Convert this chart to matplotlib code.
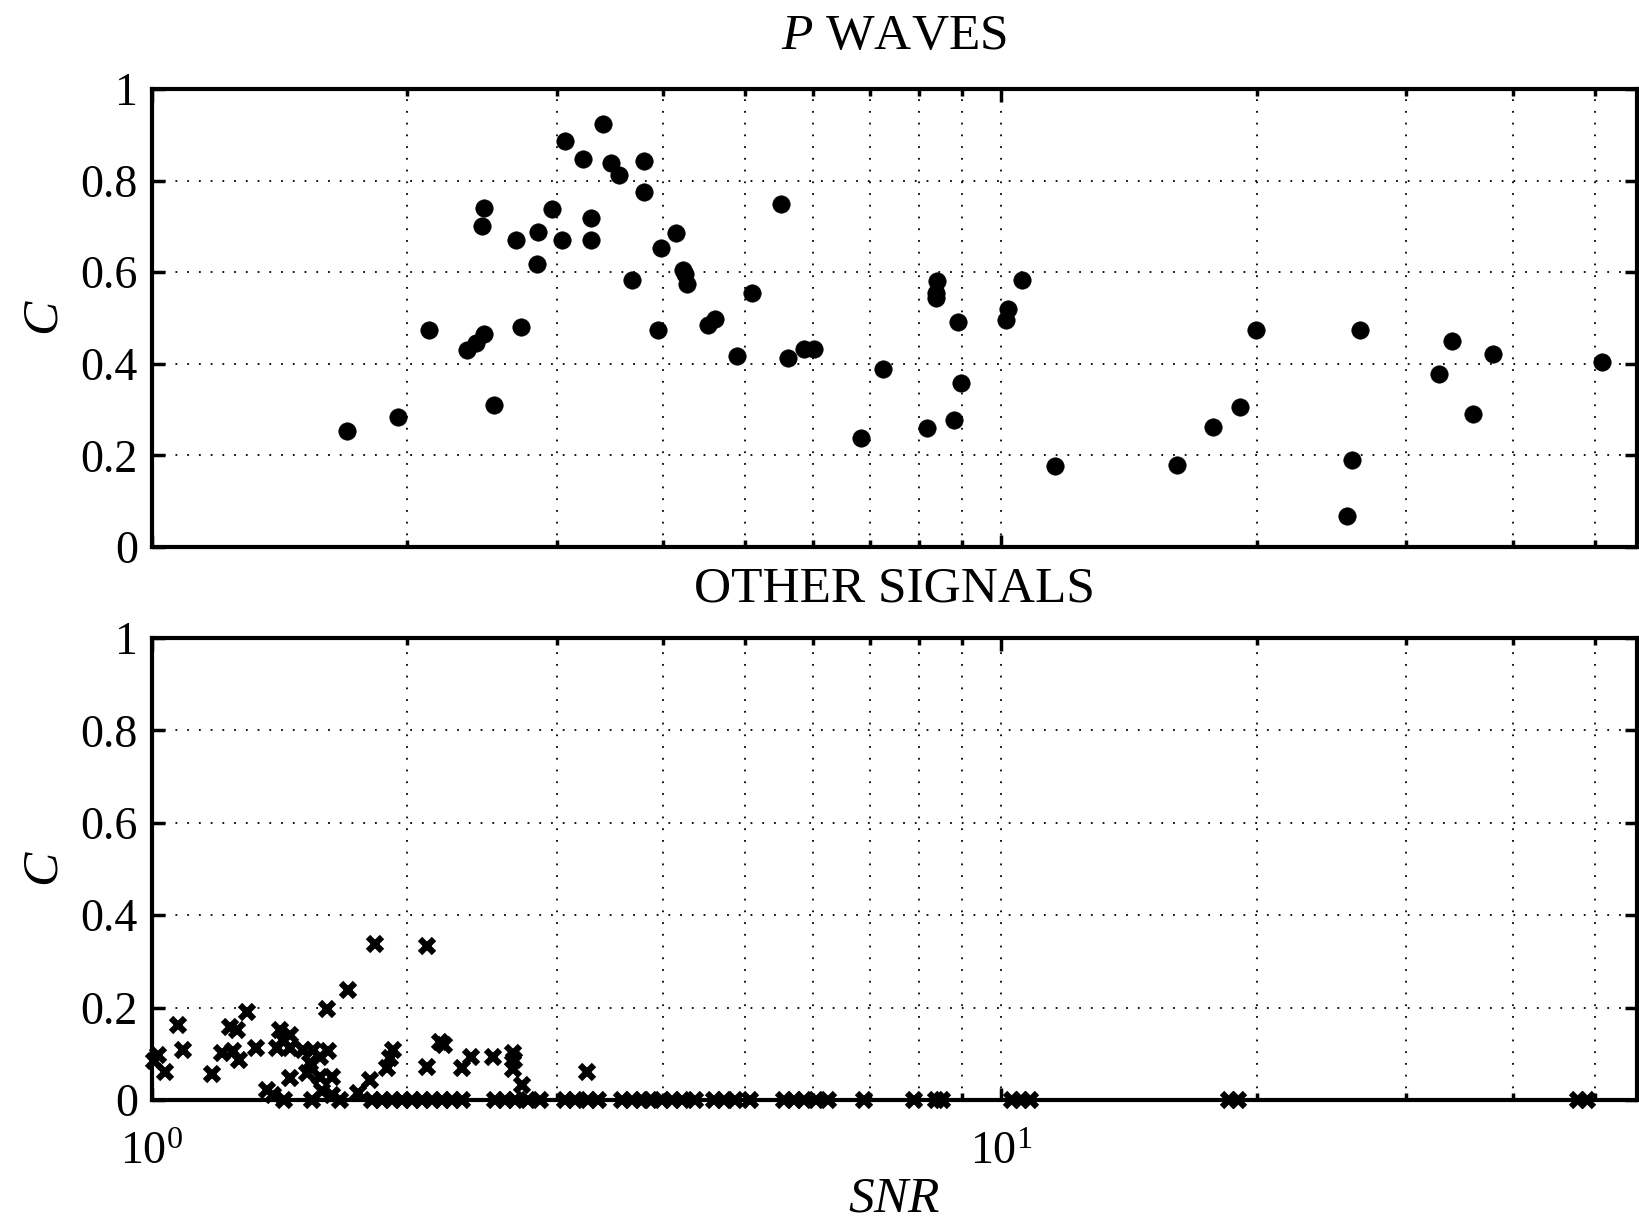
import numpy as np
import matplotlib
matplotlib.use("Agg")
import matplotlib.pyplot as plt
from matplotlib.ticker import LogLocator, NullFormatter, FixedLocator

plt.rcParams['font.family'] = ['Liberation Serif', 'DejaVu Serif']
plt.rcParams['mathtext.fontset'] = 'custom'
plt.rcParams['mathtext.rm'] = 'Liberation Serif'
plt.rcParams['mathtext.it'] = 'Liberation Serif:italic'

# P-wave detections: signal-to-noise ratio and coherence
snr_p = [1.696, 1.950, 2.123, 2.35, 2.407, 2.459, 2.459, 2.449, 2.527, 2.683,
         2.72, 2.852, 2.844, 2.956, 3.043, 3.067, 3.219, 3.289, 3.289, 3.395,
         3.471, 3.553, 3.675, 3.802, 3.802, 3.945, 3.975, 4.14, 4.22, 4.25,
         4.27, 5.51, 5.083, 4.52, 4.6, 4.89, 5.617, 5.867, 6.02, 6.83,
         7.25, 8.18, 8.41, 8.37, 8.37, 8.90, 8.96, 8.80, 10.18, 10.14,
         10.59, 11.56, 16.12, 17.78, 19.1, 19.95, 26.47, 25.88, 25.53, 33.94,
         32.79, 37.93, 35.89, 50.97]
c_p = [0.254, 0.284, 0.474, 0.429, 0.445, 0.465, 0.741, 0.701, 0.309, 0.671,
       0.480, 0.688, 0.617, 0.738, 0.671, 0.887, 0.847, 0.718, 0.671, 0.923,
       0.838, 0.811, 0.583, 0.842, 0.776, 0.474, 0.653, 0.686, 0.605, 0.597,
       0.574, 0.748, 0.555, 0.485, 0.497, 0.416, 0.412, 0.432, 0.432, 0.237,
       0.388, 0.259, 0.580, 0.554, 0.543, 0.492, 0.359, 0.277, 0.519, 0.496,
       0.583, 0.177, 0.179, 0.262, 0.306, 0.473, 0.474, 0.191, 0.068, 0.449,
       0.378, 0.421, 0.291, 0.403]

# other signals
snr_o = [1.005, 1.018, 1.037, 1.073, 1.089, 1.179, 1.209, 1.236, 1.259, 1.248,
         1.267, 1.294, 1.326, 1.366, 1.404, 1.416, 1.429, 1.455, 1.455, 1.455,
         1.508, 1.522, 1.536, 1.55, 1.578, 1.578, 1.607, 1.614, 1.629, 1.704,
         1.751, 1.807, 1.832, 1.891, 1.908, 1.925, 2.108, 2.111, 2.185, 2.208,
         2.317, 2.377, 2.52, 2.666, 2.67, 2.66, 2.727, 3.252,
         1.39, 1.43, 1.545, 1.588, 1.631, 1.667,
         1.817, 1.867, 1.918, 1.971, 2.025, 2.081, 2.138, 2.197, 2.258, 2.319,
         2.537, 2.606, 2.678, 2.774, 2.866, 3.067, 3.151, 3.264, 3.354,
         3.58, 3.678, 3.78, 3.863, 3.99, 4.10, 4.213, 4.364,
         4.592, 4.719, 4.863, 5.065, 5.553, 5.706, 5.863, 6.056, 6.258,
         6.897, 7.90, 8.385, 8.52, 10.30, 10.56, 10.82, 18.56, 19.02, 47.8, 48.98]
c_o = [0.085, 0.097, 0.060, 0.162, 0.108, 0.056, 0.102, 0.159, 0.152, 0.105,
       0.087, 0.190, 0.112, 0.022, 0.112, 0.152, 0.130, 0.141, 0.112, 0.047,
       0.108, 0.058, 0.079, 0.108, 0.094, 0.050, 0.197, 0.105, 0.050, 0.238,
       0.015, 0.043, 0.337, 0.069, 0.090, 0.108, 0.333, 0.072, 0.126, 0.120,
       0.069, 0.094, 0.094, 0.101, 0.087, 0.068, 0.032, 0.060,
       0.010, 0.0, 0.0, 0.020, 0.010, 0.0,
       0, 0, 0, 0, 0, 0, 0, 0, 0, 0,
       0, 0, 0, 0, 0, 0, 0, 0, 0,
       0, 0, 0, 0, 0, 0, 0, 0,
       0, 0, 0, 0, 0, 0, 0, 0, 0,
       0, 0, 0, 0, 0, 0, 0, 0, 0, 0, 0]

yticks = [0, 0.2, 0.4, 0.6, 0.8, 1]
ytick_labels = ['0', '0.2', '0.4', '0.6', '0.8', '1']

fig = plt.figure(figsize=(16.4, 12.21), dpi=100)
ax1 = fig.add_axes([0.0925, 0.552, 0.9055, 0.3752])
ax2 = fig.add_axes([0.0925, 0.0991, 0.9055, 0.3784])

ax1.plot(snr_p, c_p, 'o', color='k', ms=12.5, mew=0.5, clip_on=False, zorder=3)
ax2.plot(snr_o, c_o, 'x', color='k', ms=10, mew=4.5, clip_on=False, zorder=3)

grid_style = dict(color='k', linestyle=(0, (1, 5.5)), linewidth=1.3)

for ax in (ax1, ax2):
    ax.set_xscale('log')
    ax.set_xlim(1, 56)
    ax.set_ylim(0, 1)
    ax.xaxis.set_major_locator(FixedLocator([1, 10]))
    ax.xaxis.set_minor_locator(LogLocator(base=10, subs=np.arange(2, 10)))
    ax.xaxis.set_minor_formatter(NullFormatter())
    ax.set_yticks(yticks)
    ax.set_yticklabels(ytick_labels)
    ax.grid(True, which='both', axis='x', **grid_style)
    ax.grid(True, which='major', axis='y', **grid_style)
    ax.set_axisbelow(True)
    for sp in ax.spines.values():
        sp.set_linewidth(3)
    ax.tick_params(which='both', direction='in', top=True, right=True,
                   labelsize=33, width=2.5)
    ax.tick_params(which='major', length=9)
    ax.tick_params(which='minor', length=5)
    ax.tick_params(axis='y', pad=10)
    ax.tick_params(axis='x', pad=23)
    ax.set_ylabel('$C$', fontsize=37)
    ax.yaxis.set_label_coords(-0.056, 0.5)

ax1.set_xticklabels([])
ax2.set_xticklabels(['$10^{0}$', '$10^{1}$'])
ax2.set_xlabel('$SNR$', fontsize=37)
ax2.xaxis.set_label_coords(0.5, -0.165)

ax1.set_title('$P$ WAVES', fontsize=37, pad=29)
ax2.set_title('OTHER SIGNALS', fontsize=37, pad=26)

fig.savefig('out.png', dpi=100)
